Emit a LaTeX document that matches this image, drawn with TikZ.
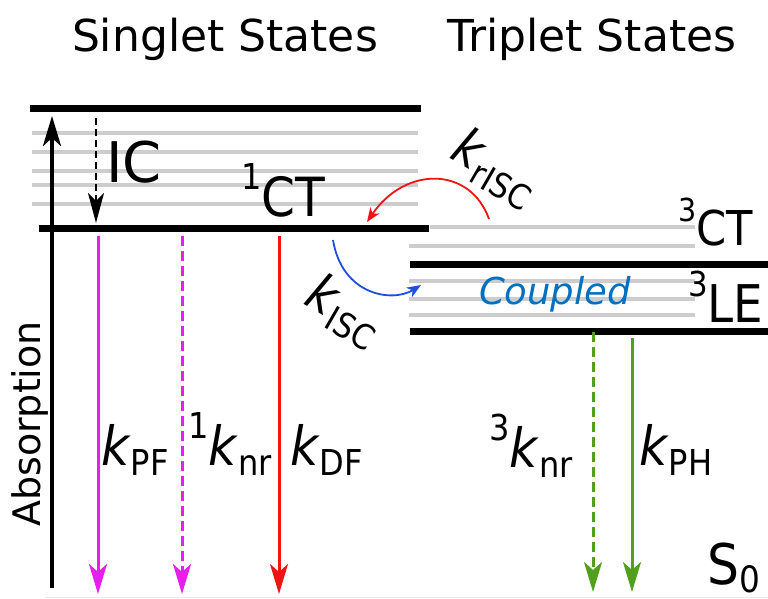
\documentclass[tikz,border=0pt]{standalone}
\usepackage{fontspec}
\usepackage{graphicx}
\setmainfont{DejaVu Sans}
\newfontfamily\labf[FakeStretch=0.9]{DejaVu Sans}
\usetikzlibrary{arrows.meta}
\definecolor{magc}{RGB}{232,30,240}
\definecolor{redc}{RGB}{240,20,20}
\definecolor{greenc}{RGB}{80,160,30}
\definecolor{bluec}{RGB}{30,80,220}
\definecolor{coupc}{RGB}{0,112,192}
\definecolor{greyc}{RGB}{205,205,205}
\newcommand{\kl}[1]{\textit{k}\raisebox{-0.2em}{\scalebox{0.66}{#1}}}
\newcommand{\sps}[1]{\raisebox{0.5em}{\scalebox{0.66}{#1}}}
\begin{document}
\begin{tikzpicture}[x=1pt,y=-1pt,
  level/.style={line width=7pt,black},
  vib/.style={line width=4pt,greyc},
  bigtip/.style={-{Stealth[length=30pt,width=18pt,inset=8pt]}},
  smalltip/.style={-{Stealth[length=14pt,width=11pt,inset=4pt]}},
  lbl/.style={inner sep=0pt,anchor=base west},
  every node/.style={inner sep=0pt}]
\useasboundingbox (0,0) rectangle (768,598);
% titles
\node[anchor=base,font=\fontsize{44}{50}\selectfont] (tS) at (225,51) {Singlet States};
\node[anchor=base,font=\fontsize{44}{50}\selectfont] (tT) at (592,51) {Triplet States};
% singlet vibrational lines
\foreach \y in {133,152,171,185,204} \draw[vib] (32,\y) -- (418,\y);
% triplet vibrational lines
\draw[vib] (430,227) -- (695,227);
\draw[vib] (409,246) -- (695,246);
\foreach \y in {281,299,315} \draw[vib] (409,\y) -- (695,\y);
% levels
\draw[level] (30,108) -- (421,108);
\draw[level] (39,228) -- (429,228);
\draw[level] (410,264) -- (768,264);
\draw[level] (410,331) -- (768,331);
% faint ground line
\draw[line width=1pt,black!8] (45,597) -- (768,597);
% coordinates
\coordinate (absS) at (52,588);
\coordinate (absE) at (52,116);
\coordinate (icS) at (96,118);
\coordinate (icE) at (96,223);
\coordinate (pfS) at (98,236);
\coordinate (pfE) at (98,594);
\coordinate (nr1S) at (182,236);
\coordinate (nr1E) at (182,594);
\coordinate (dfS) at (279,236);
\coordinate (dfE) at (279,594);
\coordinate (nr3S) at (593,332);
\coordinate (nr3E) at (593,592);
\coordinate (phS) at (632,338);
\coordinate (phE) at (632,592);
\coordinate (rS) at (489,219);
\coordinate (rE) at (367,222);
\coordinate (bS) at (333,240);
\coordinate (bE) at (421,285);
% arrows
\draw[line width=4pt,-{Stealth[length=30pt,width=18pt,inset=8pt]}] (absS) -- (absE);
\draw[line width=2.6pt,dash pattern=on 7pt off 4pt,-{Stealth[length=30pt,width=16pt,inset=8pt]}] (icS) -- (icE);
\draw[line width=3pt,magc,bigtip] (pfS) -- (pfE);
\draw[line width=3pt,magc,dash pattern=on 10pt off 5pt,bigtip] (nr1S) -- (nr1E);
\draw[line width=3pt,redc,bigtip] (dfS) -- (dfE);
\draw[line width=3pt,greenc,dash pattern=on 10pt off 5pt,bigtip] (nr3S) -- (nr3E);
\draw[line width=3pt,greenc,bigtip] (phS) -- (phE);
\draw[line width=1.8pt,redc,smalltip] (rS) .. controls (470,166) and (405,166) .. (rE);
\draw[line width=1.8pt,bluec,smalltip] (bS) .. controls (342,295) and (392,303) .. (bE);
% labels
\node[lbl,font=\fontsize{56}{60}\selectfont] (ic) at (106,182) {IC};
\node[lbl,font=\labf\fontsize{54}{60}\selectfont] (ct1) at (241,216) {\sps{1}CT};
\node[lbl,font=\labf\fontsize{48}{60}\selectfont] (ct3) at (678,245) {\sps{3}CT};
\node[lbl,font=\labf\fontsize{52}{60}\selectfont] (le3) at (688,322) {\sps{3}LE};
\node[anchor=base,font=\fontsize{37}{40}\selectfont\itshape,text=coupc] (cp) at (555,304) {Coupled};
\node[font=\labf\fontsize{52}{60}\selectfont,rotate=-30] (kr) at (495,168) {\kl{rISC}};
\node[font=\labf\fontsize{52}{60}\selectfont,rotate=-30] (ki) at (344,311) {\kl{ISC}};
\node[font=\fontsize{38}{44}\selectfont,rotate=90] (abs) at (30,424) {Absorption};
\node[lbl,font=\labf\fontsize{54}{60}\selectfont] (kpf) at (101,465) {\kl{PF}};
\node[lbl,font=\labf\fontsize{54}{60}\selectfont] (knr1) at (188,465) {\sps{1}\kl{nr}};
\node[lbl,font=\labf\fontsize{54}{60}\selectfont] (kdf) at (290,465) {\kl{DF}};
\node[lbl,font=\labf\fontsize{54}{60}\selectfont] (knr3) at (489,467) {\sps{3}\kl{nr}};
\node[lbl,font=\labf\fontsize{54}{60}\selectfont] (kph) at (639,465) {\kl{PH}};
\node[lbl,font=\labf\fontsize{56}{60}\selectfont] (s0) at (707,584) {S\raisebox{-0.15em}{\scalebox{0.65}{0}}};
\end{tikzpicture}
\end{document}
